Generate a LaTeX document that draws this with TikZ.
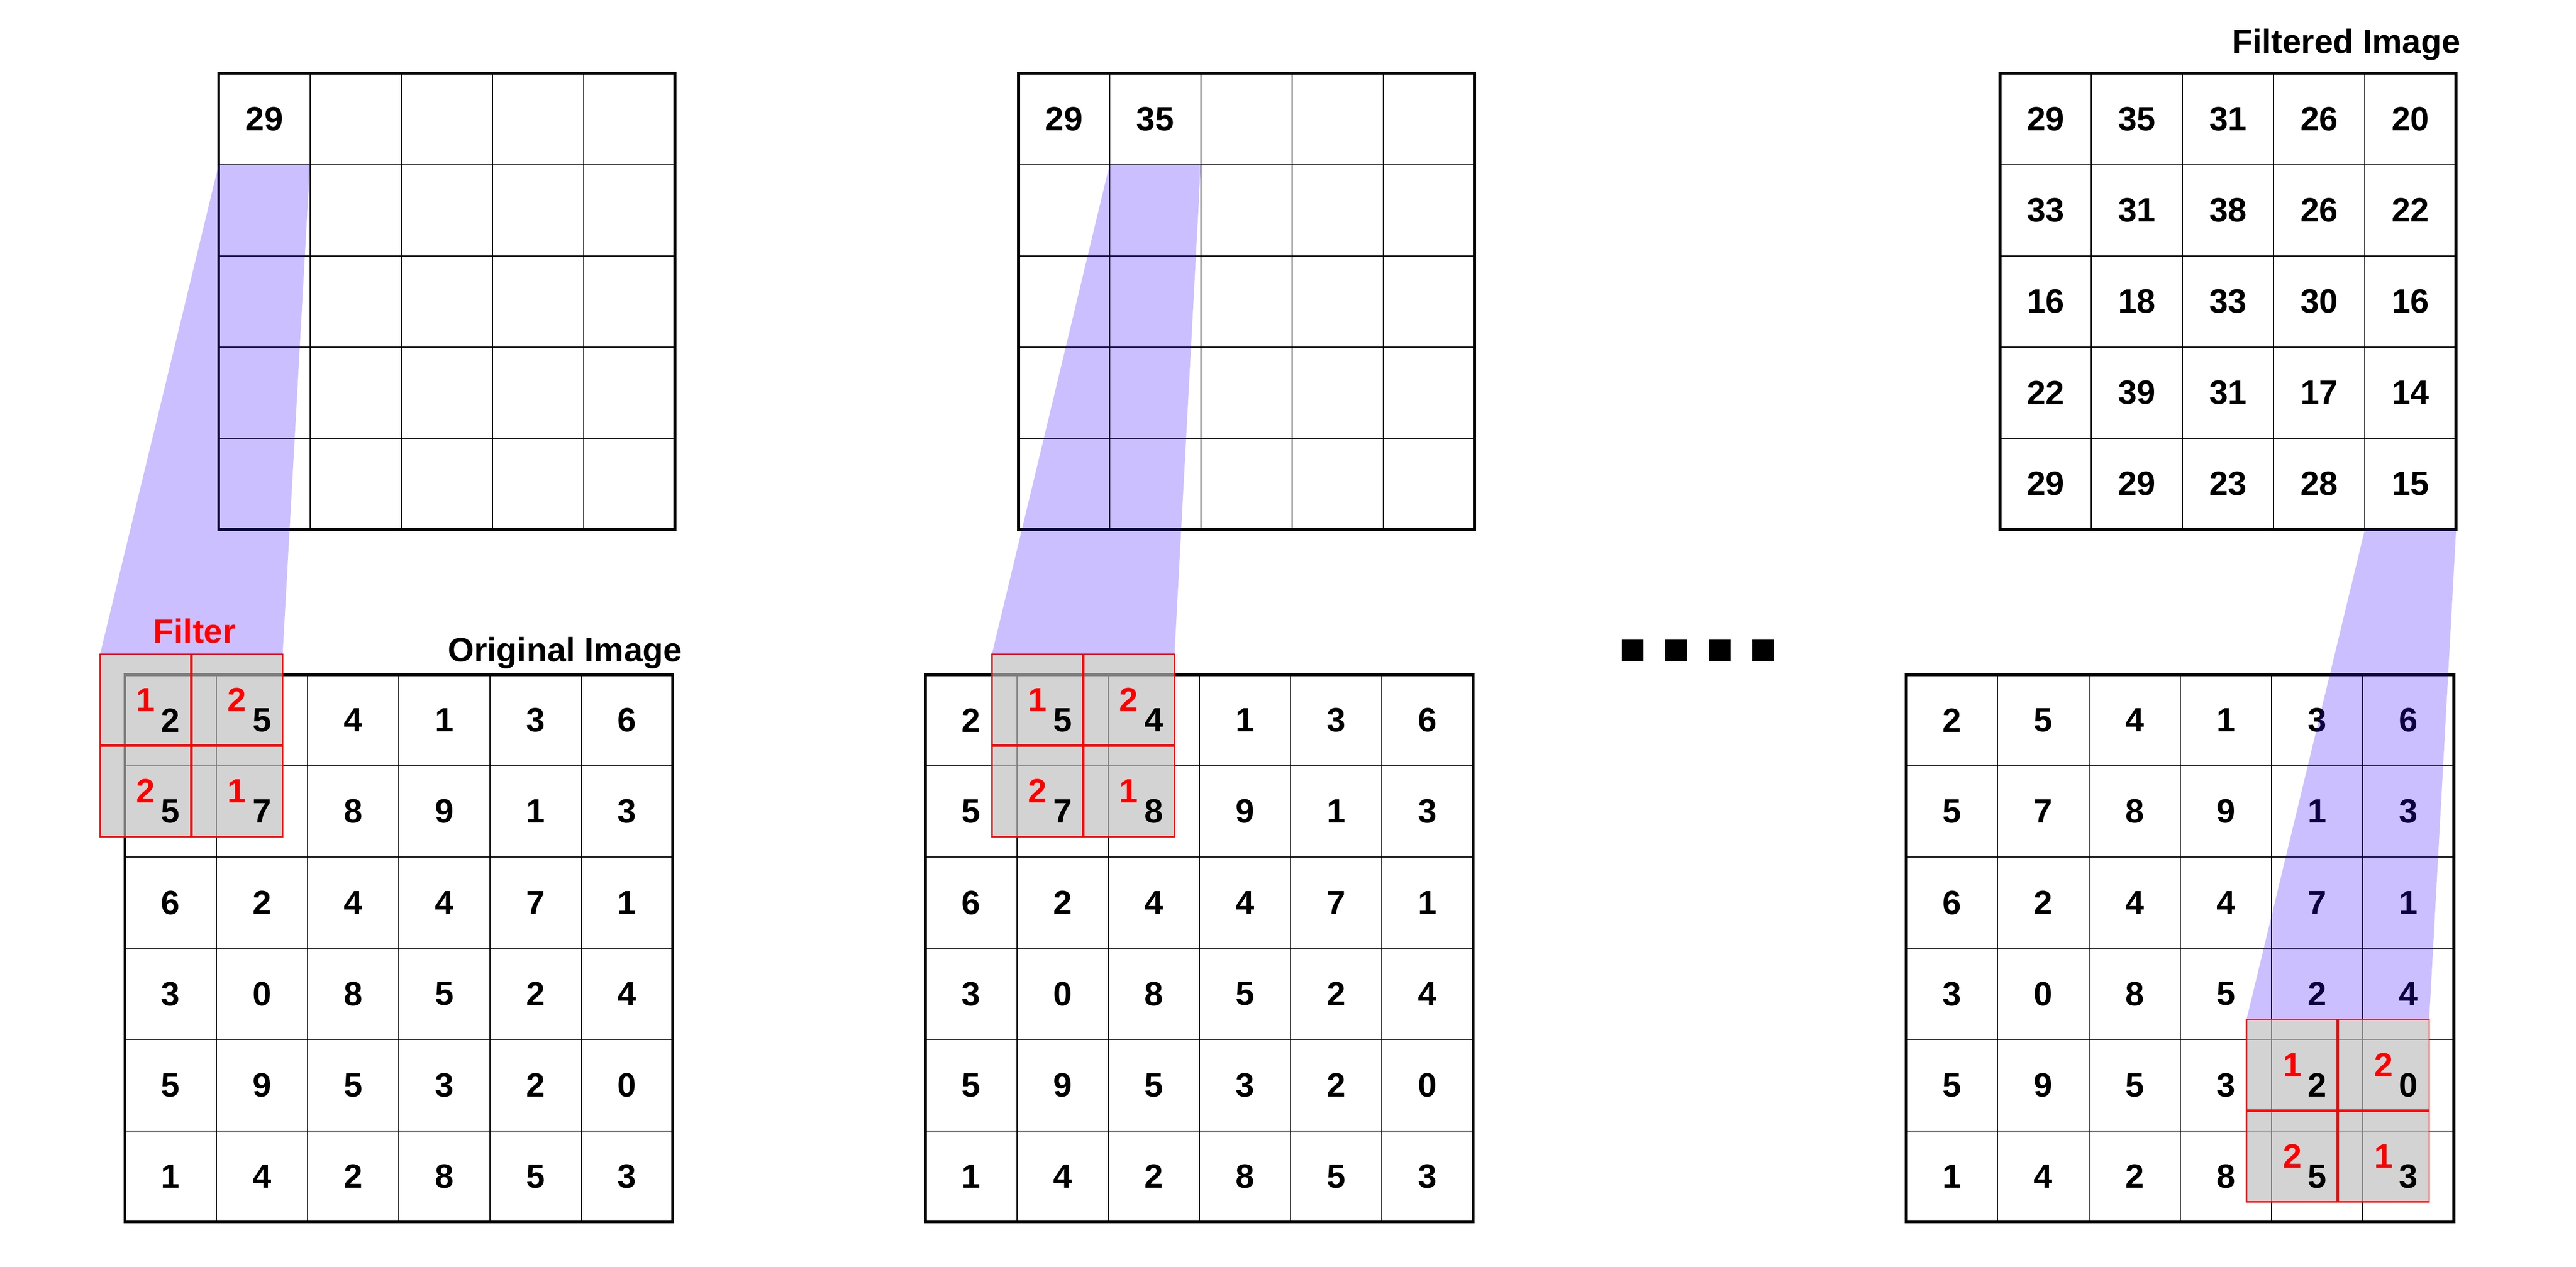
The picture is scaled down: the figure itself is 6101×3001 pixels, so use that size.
\documentclass[tikz,border=0pt]{standalone}
\usepackage{fontspec}
\setmainfont{Liberation Sans}
\usetikzlibrary{calc}
\definecolor{projviolet}{RGB}{50,0,255}
\definecolor{filtgray}{RGB}{190,189,190}
\newcommand\digitfont{\fontsize{22.7}{27}\selectfont\bfseries}
\tikzset{
  num/.style={font=\digitfont, inner sep=0pt, text=black},
  fnum/.style={num, text=red},
  cellline/.style={line width=0.7pt, draw=black},
  frame/.style={line width=2pt, draw=black},
  proj/.style={fill=projviolet, fill opacity=0.25, draw=none},
  filterfill/.style={fill=filtgray, fill opacity=0.67, draw=none},
  filterline/.style={draw=red, line width=0.9pt},
  filtermid/.style={draw=red, line width=1.85pt},
  title/.style={font=\digitfont, inner sep=0pt},
  dotsq/.style={fill=black, draw=none, minimum size=0.51cm, inner sep=0pt},
}
\begin{document}
\begin{tikzpicture}[x=0.01cm, y=-0.01cm]
\useasboundingbox (0,0) rectangle (6101,3001);

% ---------- panels: name / bottom-grid x0 / top-grid x0 / filter col / filter row / top cell col / top cell row
\foreach \gn/\gx/\tx/\fc/\fr/\oc/\orow in {L/296/518/0/0/0/0, M/2192/2412/1/0/1/0, R/4515/4737/4/4/4/4} {
  % bottom (original) grid lines
  \foreach \i in {1,...,5} {
    \draw[cellline] (\gx+216.2*\i,1598) -- (\gx+216.2*\i,2895);
    \draw[cellline] (\gx,1598+216.2*\i) -- (\gx+1297,1598+216.2*\i);
  }
  \draw[frame] (\gx,1598) rectangle (\gx+1297,2895);
  % top (filtered) grid lines
  \foreach \i in {1,...,4} {
    \draw[cellline] (\tx+216*\i,174) -- (\tx+216*\i,1254);
    \draw[cellline] (\tx,174+216*\i) -- (\tx+1080,174+216*\i);
  }
  \draw[frame] (\tx,174) rectangle (\tx+1080,1254);
  % filter geometry
  \coordinate (\gn-ftl) at (\gx+216.2*\fc-59,1598+216.2*\fr-48);
  \coordinate (\gn-ftr) at (\gx+216.2*\fc-59+432.4,1598+216.2*\fr-48);
  \coordinate (\gn-fbr) at (\gx+216.2*\fc-59+432.4,1598+216.2*\fr-48+432.4);
  \coordinate (\gn-fbl) at (\gx+216.2*\fc-59,1598+216.2*\fr-48+432.4);
  \fill[filterfill] (\gn-ftl) rectangle (\gn-fbr);
  % original numbers
  \foreach \row [count=\r from 0] in {{2,5,4,1,3,6},{5,7,8,9,1,3},{6,2,4,4,7,1},{3,0,8,5,2,4},{5,9,5,3,2,0},{1,4,2,8,5,3}} {
    \foreach \v [count=\c from 0] in \row {
      \node[num] (\gn-o-\r-\c) at (\gx+216.2*\c+108.1,1598+216.2*\r+108.1) {\v};
    }
  }
  % filter weights
  \node[fnum] (\gn-w-0-0) at ($(\gn-ftl)+(108.1,108.1)$) {1};
  \node[fnum] (\gn-w-0-1) at ($(\gn-ftl)+(324.3,108.1)$) {2};
  \node[fnum] (\gn-w-1-0) at ($(\gn-ftl)+(108.1,324.3)$) {2};
  \node[fnum] (\gn-w-1-1) at ($(\gn-ftl)+(324.3,324.3)$) {1};
  \draw[filtermid] ($(\gn-ftl)!0.5!(\gn-ftr)$) -- ($(\gn-fbl)!0.5!(\gn-fbr)$);
  \draw[filtermid] ($(\gn-ftl)!0.5!(\gn-fbl)$) -- ($(\gn-ftr)!0.5!(\gn-fbr)$);
  \draw[filterline] (\gn-ftl) rectangle (\gn-fbr);
  % projection to output cell
  \coordinate (\gn-cbl) at (\tx+216*\oc,174+216*\orow+216);
  \coordinate (\gn-cbr) at (\tx+216*\oc+216,174+216*\orow+216);
  \fill[proj] (\gn-cbl) -- (\gn-cbr) -- (\gn-ftr) -- (\gn-ftl) -- cycle;
}

% ---------- top grid values
\node[num] (L-t-0-0) at (518+108,174+108) {29};
\node[num] (M-t-0-0) at (2412+108,174+108) {29};
\node[num] (M-t-0-1) at (2412+324,174+108) {35};
\foreach \row [count=\r from 0] in {{29,35,31,26,20},{33,31,38,26,22},{16,18,33,30,16},{22,39,31,17,14},{29,29,23,28,15}} {
  \foreach \v [count=\c from 0] in \row {
    \node[num] (R-t-\r-\c) at (4737+216*\c+108,174+216*\r+108) {\v};
  }
}

% ---------- labels
\node[title, anchor=base, text=red] (filterlabel) at (461,1524) {Filter};
\node[title, anchor=base east] (origlabel) at (1616,1567) {Original Image};
\node[title, anchor=base east] (filtlabel) at (5828,126) {Filtered Image};

% ---------- ellipsis squares
\foreach \k in {0,...,3} {
  \node[dotsq] (dot\k) at (3866.5+103*\k,1541) {};
}
\end{tikzpicture}
\end{document}
